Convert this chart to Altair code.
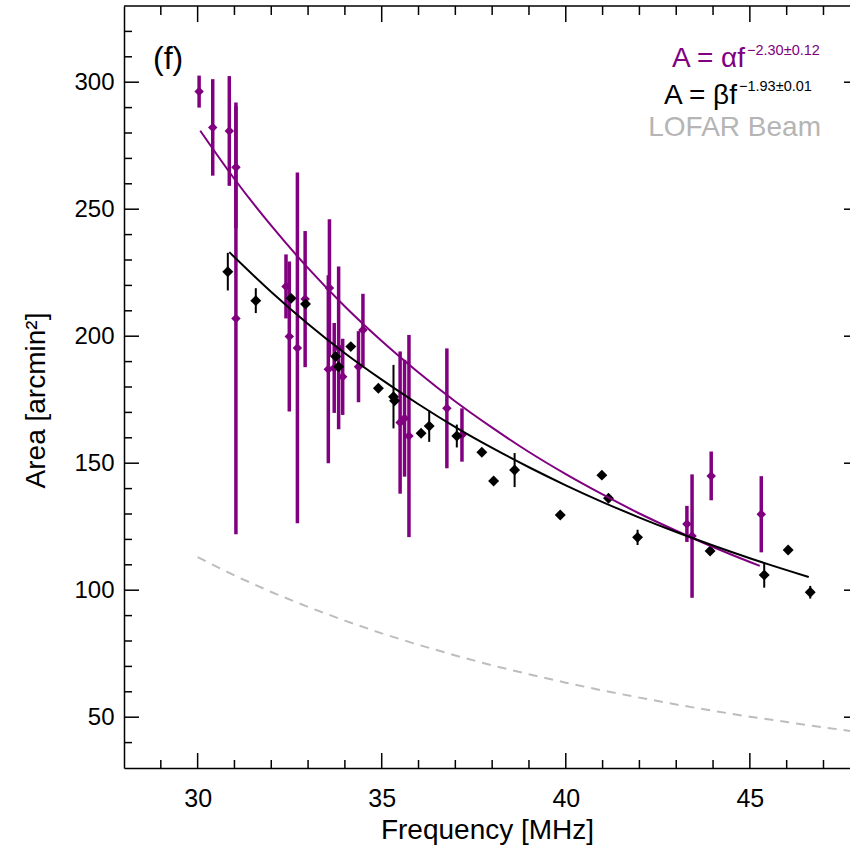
import altair as alt
import pandas as pd

# ---------------- data ----------------
purple_freq = [30.04, 30.41, 30.86, 31.04, 31.04, 32.40, 32.49, 32.71, 32.92, 33.58,
               33.55, 33.71, 33.83, 33.94, 34.37, 34.49, 35.50, 35.62, 35.74, 36.77,
               37.18, 43.29, 43.43, 43.95, 45.31]
purple_area = [296.3, 282.2, 280.8, 266.5, 207.0, 219.6, 199.9, 195.4, 214.6, 219.0,
               187.0, 187.5, 195.4, 184.0, 188.0, 202.4, 166.0, 167.7, 160.7, 171.6,
               161.1, 126.1, 121.3, 145.0, 129.9]
purple_err = [6.3, 19.0, 21.6, 24.0, 85.0, 12.6, 29.5, 69.0, 26.8, 27.0,
              37.0, 17.7, 32.0, 15.0, 14.0, 14.3, 28.0, 23.0, 39.8, 23.6,
              10.5, 7.1, 24.3, 9.6, 15.0]

black_freq = [30.82, 31.58, 32.54, 32.93, 33.75, 33.83, 34.16, 34.91, 35.32, 35.35,
              36.07, 36.29, 37.04, 37.72, 38.04, 38.61, 39.85, 40.98, 41.16, 41.95,
              43.92, 45.39, 46.04, 46.64]
black_area = [225.4, 214.0, 214.9, 212.7, 192.0, 188.0, 195.9, 179.5, 176.2, 174.6,
              161.8, 164.6, 160.7, 154.3, 143.0, 147.3, 129.6, 145.3, 136.2, 120.8,
              115.4, 106.0, 115.8, 99.2]
black_err = [7.4, 4.9, 0, 0, 0, 0, 0, 0, 12.5, 0,
             0, 6.2, 4.5, 0, 0, 6.7, 0, 0, 0, 3.0,
             0, 5.0, 0, 2.5]

# fitted curves
alpha_freq = [30.07, 31, 32, 33, 34, 35, 36, 37, 38, 39, 40, 41, 42, 43, 44, 45, 45.27]
alpha_area = [280.9, 261.9, 243.5, 226.8, 211.7, 198.1, 185.7, 174.3, 164.0, 154.4,
              145.7, 137.7, 130.2, 123.4, 117.0, 111.1, 109.6]
beta_freq = [30.86, 32, 33, 34, 35, 36, 37, 38, 39, 40, 41, 42, 43, 44, 45, 46, 46.6]
beta_area = [233.1, 217.4, 204.8, 193.3, 182.9, 173.2, 164.2, 156.0, 148.4, 141.3,
             134.7, 128.6, 122.9, 117.6, 112.6, 107.9, 105.2]
beam_freq = [30, 31, 32, 33, 34, 35, 36, 37, 38, 39, 40, 41, 42, 43, 44, 45, 46, 47, 47.72]
beam_area = [113.0, 105.8, 99.3, 93.4, 88.0, 83.0, 78.5, 74.3, 70.4, 66.9, 63.6, 60.5,
             57.7, 55.0, 52.5, 50.2, 48.1, 46.0, 44.6]

x_major = [30, 35, 40, 45]
x_minor = [29, 31, 32, 33, 34, 36, 37, 38, 39, 41, 42, 43, 44, 46, 47]
y_major = [50, 100, 150, 200, 250, 300]
y_minor = [40, 60, 70, 80, 90, 110, 120, 130, 140, 160, 170, 180, 190, 210, 220, 230,
           240, 260, 270, 280, 290, 310, 320]

# ---------------- chart ----------------
W, H = 726, 762
FONT = "Liberation Sans"
PURPLE = "#800080"

xs = alt.Scale(domain=[28, 47.72], nice=False, zero=False)
ys = alt.Scale(domain=[30, 330], nice=False, zero=False)

pdf = pd.DataFrame({"f": purple_freq, "a": purple_area, "e": purple_err})
pdf["lo"] = pdf["a"] - pdf["e"]
pdf["hi"] = pdf["a"] + pdf["e"]
bdf = pd.DataFrame({"f": black_freq, "a": black_area, "e": black_err})
bdf["lo"] = bdf["a"] - bdf["e"]
bdf["hi"] = bdf["a"] + bdf["e"]

x_axis = alt.Axis(values=x_major, format="d", ticks=False, grid=False,
                  domainColor="black", domainWidth=1.5,
                  labelFont=FONT, labelFontSize=25, labelColor="black", labelPadding=18,
                  title="Frequency [MHz]", titleFont=FONT, titleFontSize=28,
                  titleFontWeight="normal", titleColor="black",
                  titleX=W / 2, titleY=70, titleBaseline="alphabetic", titleAlign="center")
y_axis = alt.Axis(values=y_major, format="d", ticks=False, grid=False,
                  domainColor="black", domainWidth=1.5,
                  labelFont=FONT, labelFontSize=24, labelColor="black", labelPadding=10,
                  title="Area [arcmin²]", titleFont=FONT, titleFontSize=28,
                  titleFontWeight="normal", titleColor="black",
                  titleX=-80, titleY=394, titleBaseline="alphabetic", titleAlign="center",
                  titleAngle=270)

X = lambda field: alt.X(field, type="quantitative", scale=xs, axis=x_axis)
Y = lambda field: alt.Y(field, type="quantitative", scale=ys, axis=y_axis)

beam = alt.Chart(pd.DataFrame({"f": beam_freq, "a": beam_area})).mark_line(
    color="#bdbdbd", strokeWidth=2, strokeDash=[9, 7]
).encode(x=X("f"), y=Y("a"))

p_err = alt.Chart(pdf).mark_rule(color=PURPLE, strokeWidth=3.5).encode(
    x=X("f"), y=Y("lo"), y2="hi:Q")
p_pts = alt.Chart(pdf).mark_point(shape="diamond", filled=True, size=90, color=PURPLE,
                                  opacity=1).encode(x=X("f"), y=Y("a"))

b_err = alt.Chart(bdf).mark_rule(color="black", strokeWidth=2).encode(
    x=X("f"), y=Y("lo"), y2="hi:Q")
b_pts = alt.Chart(bdf).mark_point(shape="diamond", filled=True, size=120, color="black",
                                  opacity=1).encode(x=X("f"), y=Y("a"))

alpha_line = alt.Chart(pd.DataFrame({"f": alpha_freq, "a": alpha_area})).mark_line(
    color=PURPLE, strokeWidth=2, interpolate="monotone"
).encode(x=X("f"), y=Y("a"))
beta_line = alt.Chart(pd.DataFrame({"f": beta_freq, "a": beta_area})).mark_line(
    color="black", strokeWidth=2, interpolate="monotone"
).encode(x=X("f"), y=Y("a"))

# frame ticks (pointing inward)
def xticks(vals, length, top):
    d = pd.DataFrame({"v": vals})
    if top:
        yy, yy2 = 0, length
    else:
        yy, yy2 = H, H - length
    return alt.Chart(d).mark_rule(color="black", strokeWidth=1.5).encode(
        x=X("v"), y=alt.value(yy), y2=alt.value(yy2))

def yticks(vals, x0, x1):
    d = pd.DataFrame({"v": vals})
    return alt.Chart(d).mark_rule(color="black", strokeWidth=1.5).encode(
        y=Y("v"), x=alt.value(x0), x2=alt.value(x1))

top_frame = alt.Chart(pd.DataFrame({"d": [0]})).mark_rule(color="black", strokeWidth=1.5).encode(
    x=alt.value(0), x2=alt.value(W), y=alt.value(0))

ticks = [
    xticks(x_major, 15, False), xticks(x_minor, 8, False),
    xticks(x_major, 16, True), xticks(x_minor, 9, True),
    yticks(y_major, 0, 15), yticks(y_minor, 0, 8),
    yticks(y_major, W - 6, W),
]

def label(txt, x, y, size, color, align):
    return alt.Chart(pd.DataFrame({"t": [txt]})).mark_text(
        font=FONT, fontSize=size, color=color, align=align, baseline="alphabetic"
    ).encode(x=alt.value(x), y=alt.value(y), text="t:N")

texts = [
    label("(f)", 29, 63, 32, "black", "left"),
    label("A = αf", 621, 61, 28, PURPLE, "right"),
    label("−2.30±0.12", 623, 49, 14.5, PURPLE, "left"),
    label("A = βf", 613, 98, 28, "black", "right"),
    label("−1.93±0.01", 615, 85, 14.5, "black", "left"),
    label("LOFAR Beam", 697, 130, 28, "#b5b5b5", "right"),
]

chart = alt.layer(
    beam, p_err, p_pts, b_err, b_pts, alpha_line, beta_line, top_frame, *ticks, *texts
).properties(
    width=W, height=H,
    autosize=alt.AutoSizeParams(type="none"),
    padding={"left": 124, "top": 6, "right": 0, "bottom": 78},
).configure(background="white").configure_view(stroke=None)

chart.save("out.html", embed_options={"renderer": "svg", "actions": False})
